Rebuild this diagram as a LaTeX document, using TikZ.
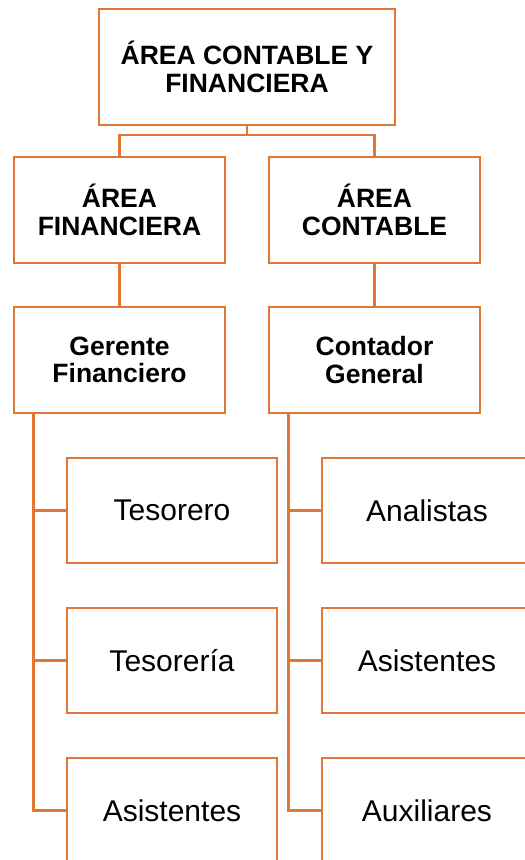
\documentclass[tikz,border=0pt]{standalone}
\usepackage{fontspec}
\setmainfont{Liberation Sans}
\definecolor{orgline}{RGB}{224,120,52}
\begin{document}
\begin{tikzpicture}[x=1pt,y=-1pt,
  box/.style={draw=orgline,line width=2.8pt,fill=white,inner sep=0pt,align=center,text=black},
  headbox/.style={box,font=\bfseries\fontsize{26.5}{27.5}\selectfont},
  subbox/.style={box,font=\fontsize{30}{32}\selectfont,minimum width=210pt,minimum height=105pt},
  lvl/.style={headbox,minimum width=211pt,minimum height=106pt},
  link/.style={draw=orgline,line width=2.6pt}]
\useasboundingbox (0,0) rectangle (525,860);
\clip (0,0) rectangle (525,860);
\fill[white] (0,0) rectangle (525,860);
% nodes
\node[headbox,minimum width=296pt,minimum height=116pt] (top) at (247,67) {ÁREA CONTABLE Y\\FINANCIERA};
\node[lvl] (fin) at (119.5,210) {ÁREA\\FINANCIERA};
\node[lvl] (cont) at (374.5,210) {ÁREA\\CONTABLE};
\node[lvl] (ger) at (119.5,360) {Gerente\\Financiero};
\node[lvl] (cg) at (374.5,360) {Contador\\General};
\node[subbox] (t1) at (172,510.5) {Tesorero};
\node[subbox] (t2) at (172,660.5) {Tesorería};
\node[subbox] (t3) at (172,810.5) {Asistentes};
\node[subbox] (a1) at (427,510.5) {Analistas};
\node[subbox] (a2) at (427,660.5) {Asistentes};
\node[subbox] (a3) at (427,810.5) {Auxiliares};
% connectors
\coordinate (j) at (247,135);
\draw[link] (top.south) -- (j);
\draw[link] (j) -| (fin.north);
\draw[link] (j) -| (cont.north);
\draw[link] (fin.south) -- (ger.north);
\draw[link] (cont.south) -- (cg.north);
\coordinate (gs) at ([xshift=21pt]ger.south west);
\coordinate (cs) at ([xshift=21pt]cg.south west);
\draw[link] (gs) |- (t1.west);
\draw[link] (gs) |- (t2.west);
\draw[link] (gs) |- (t3.west);
\draw[link] (cs) |- (a1.west);
\draw[link] (cs) |- (a2.west);
\draw[link] (cs) |- (a3.west);
\end{tikzpicture}
\end{document}
